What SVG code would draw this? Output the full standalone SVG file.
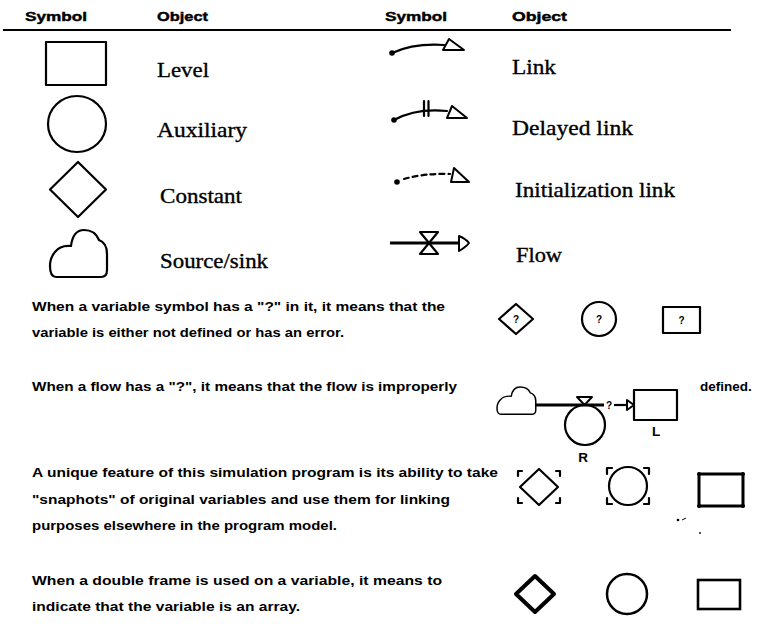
<svg xmlns="http://www.w3.org/2000/svg" width="761" height="626" viewBox="0 0 761 626">
<style>
.hd{font-family:"Liberation Sans",Arial,sans-serif;font-weight:bold;font-size:12px;fill:#000;stroke:#000;stroke-width:0.4}
.lb{font-family:"Liberation Serif","Times New Roman",serif;font-size:21px;fill:#000;stroke:#000;stroke-width:0.35}
.tx{font-family:"Liberation Sans",Arial,sans-serif;font-weight:bold;font-size:13.5px;fill:#000}
.q{font-family:"Liberation Sans",Arial,sans-serif;font-weight:bold;font-size:10px;fill:#000;text-anchor:middle}
.sh{fill:none;stroke:#000;stroke-width:2.2;stroke-linejoin:round;stroke-linecap:round}
.thick{fill:none;stroke:#000;stroke-width:4;stroke-linejoin:round}
.ln{fill:none;stroke:#000;stroke-width:2.2;stroke-linecap:round}
.tri{fill:#fff;stroke:#000;stroke-width:2;stroke-linejoin:round}
.dot{fill:#000}
</style>
<defs>
<path id="cloud" d="M 6 47 L 51 47 Q 57 47 57 40 L 57 24 Q 57 13 49 10 Q 45 0 34 0 Q 23 0 21 16 Q 10 15 5 22 Q 0 28 0 36 Q 0 47 6 47 Z"/>
</defs>

<g id="header">
<text class="hd" x="25" y="21" textLength="62" lengthAdjust="spacingAndGlyphs">Symbol</text>
<text class="hd" x="157" y="21" textLength="51" lengthAdjust="spacingAndGlyphs">Object</text>
<text class="hd" x="385" y="21" textLength="62" lengthAdjust="spacingAndGlyphs">Symbol</text>
<text class="hd" x="512" y="21" textLength="55" lengthAdjust="spacingAndGlyphs">Object</text>
<line x1="3" y1="30" x2="731" y2="30" stroke="#000" stroke-width="2"/>
</g>

<g id="level">
<rect class="sh" x="46" y="42" width="60" height="43"/>
<text class="lb" x="157" y="77" textLength="52" lengthAdjust="spacingAndGlyphs">Level</text>
</g>
<g id="auxiliary">
<ellipse class="sh" cx="77" cy="124" rx="29" ry="28"/>
<text class="lb" x="157" y="137" textLength="90" lengthAdjust="spacingAndGlyphs">Auxiliary</text>
</g>
<g id="constant">
<polygon class="sh" points="78,162 106,189.5 78,217 50,189.5"/>
<text class="lb" x="160" y="203" textLength="82" lengthAdjust="spacingAndGlyphs">Constant</text>
</g>
<g id="source-sink">
<use href="#cloud" x="50" y="230" class="sh"/>
<text class="lb" x="160" y="268" textLength="108" lengthAdjust="spacingAndGlyphs">Source/sink</text>
</g>

<g id="link">
<circle class="dot" cx="392" cy="53" r="2.8"/>
<path class="ln" d="M 392 53 Q 414 43 444 45"/>
<polygon class="tri" points="443,50 449,39 464,50"/>
<text class="lb" x="512" y="74" textLength="44" lengthAdjust="spacingAndGlyphs">Link</text>
</g>
<g id="delayed-link">
<circle class="dot" cx="394" cy="120" r="2.8"/>
<path class="ln" d="M 394 120 Q 416 108 447 111"/>
<line class="ln" x1="424" y1="101" x2="424" y2="116"/>
<line class="ln" x1="428.5" y1="101" x2="428.5" y2="116"/>
<polygon class="tri" points="447,118 452,106 467,118"/>
<text class="lb" x="512" y="135" textLength="121" lengthAdjust="spacingAndGlyphs">Delayed link</text>
</g>
<g id="initialization-link">
<circle class="dot" cx="397" cy="182" r="2.8"/>
<path class="ln" d="M 404 179 Q 425 173 450 174" stroke-dasharray="5 4"/>
<polygon class="tri" points="451,182 454,168 469,182"/>
<text class="lb" x="515" y="197" textLength="160" lengthAdjust="spacingAndGlyphs">Initialization link</text>
</g>
<g id="flow">
<line x1="390" y1="243" x2="460" y2="243" stroke="#000" stroke-width="3"/>
<polygon fill="#fff" stroke="#000" stroke-width="2.2" stroke-linejoin="round" points="420,232 438,232 420,254 438,254"/>
<path class="tri" d="M 459 236 Q 466 239 469 243 Q 466 247 459 251 Z"/>
<text class="lb" x="516" y="262" textLength="46" lengthAdjust="spacingAndGlyphs">Flow</text>
</g>

<g id="text-undefined">
<text class="tx" x="32" y="311" textLength="413" lengthAdjust="spacingAndGlyphs">When a variable symbol has a "?" in it, it means that the</text>
<text class="tx" x="32" y="337" textLength="312" lengthAdjust="spacingAndGlyphs">variable is either not defined or has an error.</text>
</g>
<g id="q-diamond">
<polygon class="sh" points="516,304 533,319 516,334 499,319"/>
<text class="q" x="516" y="323">?</text>
</g>
<g id="q-circle">
<circle class="sh" cx="599" cy="319" r="17"/>
<text class="q" x="599" y="323">?</text>
</g>
<g id="q-rect">
<rect class="sh" x="663" y="307" width="37" height="26"/>
<text class="q" x="681.5" y="324">?</text>
</g>

<g id="text-flow">
<text class="tx" x="32" y="391" textLength="425" lengthAdjust="spacingAndGlyphs">When a flow has a "?", it means that the flow is improperly</text>
<text class="tx" x="700" y="391">defined.</text>
</g>
<g id="flow-cloud">
<use href="#cloud" transform="translate(497,387) scale(0.68,0.58)" class="sh" vector-effect="non-scaling-stroke" style="stroke-width:2.2"/>
</g>
<g id="flow-rate-R">
<circle class="sh" cx="585" cy="425" r="20"/>
<text class="tx" x="583" y="462" text-anchor="middle">R</text>
</g>
<g id="flow-level-L">
<rect class="sh" x="634" y="390" width="43" height="30" stroke-width="3"/>
<text class="tx" x="656" y="436" text-anchor="middle">L</text>
</g>

<g id="text-snapshot">
<text class="tx" x="32" y="477" textLength="466" lengthAdjust="spacingAndGlyphs">A unique feature of this simulation program is its ability to take</text>
<text class="tx" x="32" y="504" textLength="418" lengthAdjust="spacingAndGlyphs">"snaphots" of original variables and use them for linking</text>
<text class="tx" x="32" y="530" textLength="305" lengthAdjust="spacingAndGlyphs">purposes elsewhere in the program model.</text>
</g>
<g id="snap-diamond">
<polygon class="sh" points="539,469 558,487 539,505 520,487"/>
<path class="sh" d="M 518 476 V 471 H 522 M 556 471 H 560 V 476 M 518 498 V 503 H 522 M 556 503 H 560 V 498"/>
</g>
<g id="snap-circle">
<circle class="sh" cx="628" cy="486" r="19"/>
<path class="sh" d="M 607 474 V 468 H 612 M 644 468 H 649 V 474 M 607 498 V 504 H 612 M 644 504 H 649 V 498"/>
</g>
<g id="snap-rect">
<rect x="699" y="474" width="44" height="32" fill="none" stroke="#000" stroke-width="3" stroke-linejoin="round"/>
<circle class="dot" cx="699" cy="474" r="2"/><circle class="dot" cx="743" cy="474" r="2"/>
<circle class="dot" cx="699" cy="506" r="2"/><circle class="dot" cx="743" cy="506" r="2"/>
</g>
<g id="marks">
<circle class="dot" cx="678" cy="520" r="1.3"/>
<path d="M 682 520 L 686 518" stroke="#000" stroke-width="1"/>
<circle class="dot" cx="700" cy="533" r="0.9"/>
</g>

<g id="text-array">
<text class="tx" x="32" y="585" textLength="410" lengthAdjust="spacingAndGlyphs">When a double frame is used on a variable, it means to</text>
<text class="tx" x="32" y="611" textLength="268" lengthAdjust="spacingAndGlyphs">indicate that the variable is an array.</text>
</g>
<g id="array-diamond">
<polygon class="thick" points="535,576 554,594 535,612 516,594"/>
</g>
<g id="array-circle">
<circle cx="627" cy="594" r="20" fill="none" stroke="#000" stroke-width="2.5"/>
</g>
<g id="array-rect">
<rect x="698" y="580" width="42" height="29" fill="none" stroke="#000" stroke-width="2.6"/>
</g>

<g id="connectors">
<line x1="536" y1="405" x2="604" y2="405" stroke="#000" stroke-width="3"/>
<polygon class="tri" points="577,397 592,397 584.5,405"/>
<text class="q" x="609" y="409">?</text>
<line x1="614" y1="405" x2="627" y2="405" stroke="#000" stroke-width="2.2"/>
<polygon class="tri" points="627,400 634,405 627,410"/>
</g>
</svg>
